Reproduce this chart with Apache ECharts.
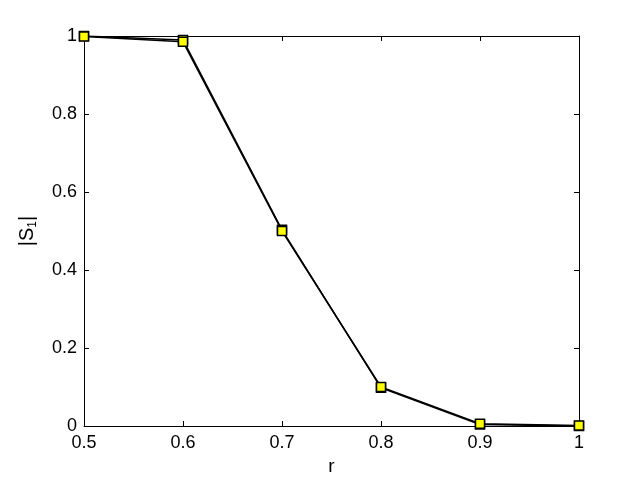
<!DOCTYPE html>
<html><head><meta charset="utf-8">
<script src="https://cdn.jsdelivr.net/npm/echarts@6/dist/echarts.min.js"></script>
<style>html,body{margin:0;padding:0;background:#fff}#c{width:640px;height:480px}</style>
</head><body><div id="c"></div>
<script>
const rValues = [0.5, 0.6, 0.7, 0.8, 0.9, 1.0];
const s1Series1 = [1.0, 0.99, 0.503, 0.098, 0.004, 0.0];
const s1Series2 = [0.999, 0.985, 0.5, 0.1, 0.006, 0.001];
const xTicks = [0.5, 0.6, 0.7, 0.8, 0.9, 1];
const yTicks = [0, 0.2, 0.4, 0.6, 0.8, 1];

const chart = echarts.init(document.getElementById('c'), null, {renderer: 'canvas'});
const font = 'Liberation Sans, Arial, Helvetica, sans-serif';
const axisCommon = {
  axisLine: {show: true, onZero: false, lineStyle: {color: '#000', width: 1}},
  axisTick: {show: true, inside: true, length: 5, lineStyle: {color: '#000'}},
  splitLine: {show: false}
};
const fmt = v => String(Math.round(v * 10) / 10);
chart.setOption({
  animation: false,
  backgroundColor: '#fff',
  grid: {left: 84, right: 61, top: 36, bottom: 54, containLabel: false, outerBoundsMode: 'none'},
  xAxis: [
    Object.assign({type: 'value', min: 0.5, max: 1, interval: 0.1, position: 'bottom',
      name: 'r', nameLocation: 'middle', nameGap: 31,
      nameTextStyle: {fontFamily: font, fontSize: 19, color: '#000'},
      axisLabel: {fontFamily: font, fontSize: 18, color: '#000', margin: 8, formatter: fmt}}, axisCommon),
    Object.assign({type: 'value', min: 0.5, max: 1, interval: 0.1, position: 'top',
      axisLabel: {show: false}}, axisCommon)
  ],
  yAxis: [
    Object.assign({type: 'value', min: 0, max: 1, interval: 0.2, position: 'left',
      name: '{n||S}{s|1}{n||}', nameLocation: 'middle', nameGap: 45,
      nameTextStyle: {fontFamily: font, fontSize: 20, color: '#000',
        rich: {n: {fontFamily: font, fontSize: 20, color: '#000'},
               s: {fontFamily: font, fontSize: 12, color: '#000', padding: [12, 0, 0, 0]}}},
      axisLabel: {fontFamily: font, fontSize: 18, color: '#000', margin: 7, formatter: fmt}}, axisCommon),
    Object.assign({type: 'value', min: 0, max: 1, interval: 0.2, position: 'right',
      axisLabel: {show: false}}, axisCommon)
  ],
  series: [
    {type: 'line', data: rValues.map((r, i) => [r, s1Series1[i]]),
     lineStyle: {color: '#000', width: 1.5}, symbol: 'rect', symbolSize: 9,
     itemStyle: {color: '#ffff00', borderColor: '#000', borderWidth: 1.5}},
    {type: 'line', data: rValues.map((r, i) => [r, s1Series2[i]]),
     lineStyle: {color: '#000', width: 1.5}, symbol: 'rect', symbolSize: 9,
     itemStyle: {color: '#ffff00', borderColor: '#000', borderWidth: 1.5}}
  ]
});
</script></body></html>
